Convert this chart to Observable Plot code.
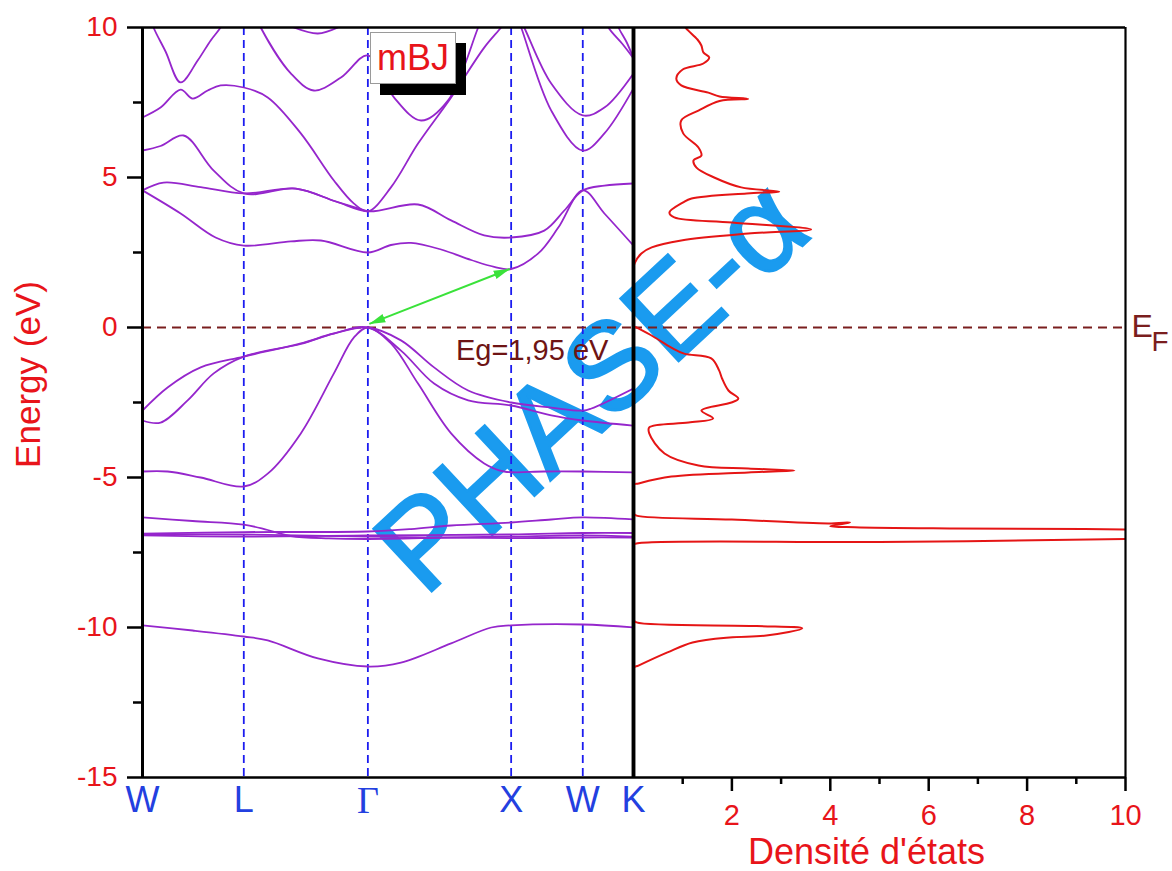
<!DOCTYPE html>
<html><head><meta charset="utf-8">
<script src="https://cdn.jsdelivr.net/npm/d3@7"></script>
<script src="https://cdn.jsdelivr.net/npm/@observablehq/plot@0.6"></script>
<style>
body{margin:0;background:#fff;}
#wrap{position:relative;width:1172px;height:871px;overflow:hidden;font-family:"Liberation Sans",Arial,sans-serif;}
#wrap svg{position:absolute;top:0;z-index:1;}
#wm{position:absolute;left:590px;top:385px;transform:translate(-50%,-50%) rotate(-43deg);font-size:124px;line-height:1;color:#1a9bef;-webkit-text-stroke:2.5px #1a9bef;white-space:nowrap;z-index:0;font-family:"Liberation Sans",Arial,sans-serif;}
#mbj{position:absolute;left:370px;top:32px;width:84px;height:50px;background:#fff;border:1px solid #9a9a9a;box-shadow:10px 11px 0 #000;color:#e8141a;font-size:36px;line-height:50px;text-align:center;z-index:3;}
</style></head>
<body><div id="wrap"><div id="wm">PHASE-α</div><div id="mbj">mBJ</div></div>
<script>
// k-path (high symmetry points), units of 2π/a
const kLabels = ["W","L","Γ","X","W","K"];
const kPositions = [0, 0.707, 1.573, 2.573, 3.073, 3.427];
const bandGap = [1.95];

// Band energies [k, E(eV)]
const bandLow = [[0,-9.93],[0.35,-10.1],[0.707,-10.3],[0.874,-10.43],[1.224,-11.03],[1.573,-11.3],[1.804,-11.17],[2.154,-10.53],[2.434,-10.0],[2.573,-9.93],[3.073,-9.9],[3.427,-10.0]];
const bandD1 = [[0,-6.33],[0.35,-6.45],[0.707,-6.57],[0.874,-6.75],[1.035,-6.95],[1.3,-7.03],[1.573,-7.05],[2.154,-7.0],[2.573,-6.97],[3.073,-6.93],[3.427,-6.97]];
const bandD2 = [[0,-6.87],[0.707,-6.82],[1.573,-6.8],[1.874,-6.72],[2.154,-6.6],[2.573,-6.5],[2.853,-6.4],[3.073,-6.33],[3.427,-6.4]];
const bandD3 = [[0,-6.93],[0.707,-6.97],[1.573,-6.93],[2.573,-6.9],[3.073,-6.85],[3.427,-6.85]];
const bandD4 = [[0,-6.9],[0.707,-6.9],[1.573,-6.97],[2.573,-7.02],[3.073,-7.0],[3.427,-7.0]];
const bandVB3 = [[0,-4.8],[0.175,-4.8],[0.406,-5.0],[0.707,-5.3],[0.874,-4.87],[1.105,-3.53],[1.336,-1.53],[1.476,-0.33],[1.573,0],[1.734,-0.53],[1.923,-1.87],[2.154,-3.53],[2.385,-4.53],[2.525,-4.8],[2.8,-4.8],[3.073,-4.8],[3.427,-4.83]];
const bandVB2 = [[0,-3.1],[0.126,-3.17],[0.315,-2.43],[0.497,-1.53],[0.707,-0.97],[1.105,-0.55],[1.336,-0.2],[1.573,0],[1.804,-0.77],[2.035,-1.87],[2.273,-2.43],[2.573,-2.6],[2.853,-2.93],[3.073,-3.1],[3.427,-3.27]];
const bandVB1 = [[0,-2.77],[0.175,-2.0],[0.406,-1.33],[0.707,-0.97],[1.105,-0.53],[1.336,-0.2],[1.573,0],[1.804,-0.43],[2.035,-1.33],[2.273,-2.1],[2.573,-2.5],[2.853,-2.67],[3.073,-2.77],[3.133,-2.7],[3.427,-2.03]];
const bandCB1 = [[0,4.57],[0.266,3.8],[0.51,3.0],[0.707,2.73],[1.035,2.87],[1.245,2.9],[1.573,2.5],[1.734,2.75],[1.874,2.82],[2.084,2.6],[2.294,2.25],[2.455,2.02],[2.573,1.95],[2.762,2.47],[2.902,3.33],[3.073,4.57],[3.224,3.8],[3.427,2.73]];
const bandCB2 = [[0,4.57],[0.147,4.83],[0.406,4.68],[0.707,4.47],[1.07,4.63],[1.35,4.2],[1.573,3.87],[1.923,4.1],[2.154,3.57],[2.385,3.07],[2.573,3.0],[2.804,3.23],[2.944,3.9],[3.073,4.57],[3.224,4.73],[3.427,4.8]];
const bandCB3 = [[0,5.9],[0.126,6.05],[0.287,6.4],[0.497,5.23],[0.707,4.47],[1.07,4.63],[1.35,4.2],[1.573,3.87]];
const bandC4 = [[0,7.0],[0.126,7.33],[0.266,7.93],[0.35,7.63],[0.455,7.9],[0.545,8.07],[0.707,8.0],[0.874,7.67],[1.105,6.47],[1.336,4.9],[1.476,4.13],[1.573,3.87],[1.734,4.67],[1.923,6.13],[2.154,7.67],[2.385,9.33],[2.503,10.0],[2.55,10.3]];
const bandC5 = [[0.05,10.4],[0.077,10.0],[0.161,9.2],[0.266,8.17],[0.385,8.9],[0.476,9.57],[0.545,10.0],[0.58,10.3]];
const bandC6 = [[0.79,10.4],[0.825,10.0],[1.035,8.47],[1.196,7.9],[1.385,8.33],[1.573,9.07],[1.755,7.67],[1.944,6.9],[2.133,7.57],[2.343,10.0],[2.38,10.4]];
const bandC7 = [[1.056,10.0],[1.224,9.8],[1.364,10.0]];
const bandC8 = [[2.62,10.4],[2.664,10.0],[2.853,8.13],[3.073,7.07],[3.224,7.33],[3.427,8.47]];
const bandC9 = [[2.61,10.4],[2.643,10.0],[2.853,7.23],[3.073,5.9],[3.224,6.47],[3.427,7.97]];
const bandC10 = [[3.23,10.3],[3.252,10.0],[3.35,9.45],[3.427,8.97]];
const bandC11 = [[3.3,10.3],[3.322,10.0],[3.38,9.5],[3.427,8.97]];

// Density of states [E(eV), DOS]
const dosCurve = [[10.1,1.02],[9.97,1.07],[9.6,1.3],[9.4,1.38],[9.17,1.42],[9.0,1.54],[8.8,1.42],[8.6,1.0],[8.3,0.87],[8.07,0.97],[7.83,1.52],[7.7,1.75],[7.62,2.33],[7.55,1.75],[7.23,1.32],[6.9,0.97],[6.47,1.01],[6.0,1.32],[5.73,1.38],[5.57,1.22],[5.33,1.28],[5.0,1.64],[4.67,2.19],[4.53,2.96],[4.47,2.3],[4.3,1.18],[4.17,1.01],[3.83,0.73],[3.67,0.83],[3.5,2.0],[3.27,3.61],[3.13,2.33],[2.9,0.97],[2.67,0.37],[2.47,0.16],[2.13,0.02],[1.95,0],[0.05,0],[0.0,0.06],[-0.3,0.4],[-0.67,0.77],[-0.87,1.03],[-1.03,1.58],[-1.43,1.74],[-1.7,1.8],[-2.1,1.93],[-2.37,2.13],[-2.5,1.99],[-2.77,1.38],[-3.03,1.62],[-3.17,1.12],[-3.33,0.32],[-3.53,0.32],[-4.2,0.63],[-4.6,1.32],[-4.7,2.33],[-4.77,3.27],[-4.83,2.33],[-4.97,0.77],[-5.2,0.1],[-5.25,0],[-6.2,0],[-6.27,0.06],[-6.4,2.0],[-6.53,3.96],[-6.5,4.4],[-6.62,4.0],[-6.66,4.5],[-6.7,6.5],[-6.73,10],[-6.85,14],[-7.05,10],[-7.15,5],[-7.2,0.06],[-7.25,0],[-9.75,0],[-9.83,0.06],[-9.95,2.5],[-10.03,3.43],[-10.27,2.7],[-10.33,1.95],[-10.5,1.2],[-10.83,0.69],[-11.27,0.1],[-11.35,0],[-15,0]];

const energyTicks = [-15,-10,-5,0,5,10];
const energyMinorTicks = [-12.5,-7.5,-2.5,2.5,7.5];
const dosTicks = [2,4,6,8,10];
const dosMinorTicks = [1,3,5,7,9];

const allBands = [bandLow,bandD1,bandD2,bandD3,bandD4,bandVB3,bandVB2,bandVB1,bandCB1,bandCB2,bandCB3,bandC4,bandC5,bandC6,bandC7,bandC8,bandC9,bandC10,bandC11];
const bandRows = allBands.flatMap((pts, i) => pts.map(([k, E]) => ({band: i, k, E})));
const kTable = kLabels.map((label, i) => ({label, k: kPositions[i]}));

const RED = "#e8141a", BLUE = "#2340e0", PURPLE = "#9526cc", BROWN = "#7a1e1e";
const FONT = "Liberation Sans, Arial, sans-serif";

const solidArrow = (color) => {
  const m = d3.create("svg:marker")
    .attr("viewBox", "-16 -6 16 12")
    .attr("markerWidth", 16).attr("markerHeight", 12)
    .attr("markerUnits", "userSpaceOnUse")
    .attr("orient", "auto-start-reverse")
    .attr("refX", 0).attr("refY", 0);
  m.append("path").attr("d", "M-16,-4.5L0,0L-16,4.5Z").attr("fill", color).attr("stroke", "none");
  return m.node();
};

const kG = kPositions[2], kX = kPositions[3];

const left = Plot.plot({
  width: 636, height: 871,
  marginLeft: 142, marginRight: 3, marginTop: 27, marginBottom: 94,
  x: {domain: [0, kPositions[5]], axis: null},
  y: {domain: [-15, 10]},
  style: {background: "transparent", overflow: "visible", fontFamily: FONT},
  marks: [
    Plot.ruleX(kPositions.slice(1, 5), {stroke: "#1c1cf0", strokeWidth: 1.8, strokeDasharray: "8,5"}),
    Plot.ruleY([0], {stroke: BROWN, strokeWidth: 1.8, strokeDasharray: "9,6"}),
    Plot.line(bandRows, {x: "k", y: "E", z: "band", curve: "catmull-rom", stroke: PURPLE, strokeWidth: 1.8, clip: true}),
    Plot.link(bandGap, {x1: kG + 0.01, y1: 0.12, x2: kX - 0.01, y2: d => d, stroke: "#3ae23a", strokeWidth: 2, markerStart: solidArrow, markerEnd: solidArrow}),
    Plot.text(bandGap, {x: 2.72, y: -0.77, text: d => `Eg=${String(d).replace(".", ",")} eV`, fontSize: 29, fill: "#6e1414"}),
    Plot.ruleX([0], {stroke: "black", strokeWidth: 3}),
    Plot.ruleX([kPositions[5]], {stroke: "black", strokeWidth: 3.5}),
    Plot.ruleY([10], {stroke: "black", strokeWidth: 2.5}),
    Plot.ruleY([-15], {stroke: "black", strokeWidth: 2.5}),
    Plot.axisY({ticks: energyTicks, tickSize: 15, tickPadding: 10, tickFormat: d => String(d), fontSize: 28, fill: RED, stroke: "black", strokeWidth: 2.5, label: null}),
    Plot.axisY({ticks: energyMinorTicks, tickSize: 9, tickFormat: () => "", stroke: "black", strokeWidth: 2.5, label: null}),
    Plot.text(kTable.filter(d => d.label !== "Γ"), {x: "k", text: "label", frameAnchor: "bottom", lineAnchor: "middle", dy: 23, fontSize: 36, fill: BLUE}),
    Plot.text(kTable.filter(d => d.label === "Γ"), {x: "k", text: "label", frameAnchor: "bottom", lineAnchor: "middle", dy: 23, fontSize: 38, fill: BLUE, fontFamily: "Liberation Serif, serif"}),
    Plot.text(["Energy (eV)"], {text: d => d, frameAnchor: "left", textAnchor: "middle", lineAnchor: "middle", dx: -114, dy: -28, rotate: -90, fontSize: 35, fill: RED})
  ]
});

const right = Plot.plot({
  width: 539, height: 871,
  marginLeft: 0, marginRight: 47, marginTop: 27, marginBottom: 94,
  x: {domain: [0, 10]},
  y: {domain: [-15, 10], axis: null},
  style: {background: "transparent", overflow: "visible", fontFamily: FONT},
  marks: [
    Plot.ruleY([0], {stroke: BROWN, strokeWidth: 1.8, strokeDasharray: "9,6"}),
    Plot.line(dosCurve, {x: d => d[1], y: d => d[0], curve: "catmull-rom", stroke: "#e51515", strokeWidth: 2, clip: true}),
    Plot.ruleX([0], {stroke: "black", strokeWidth: 3.5}),
    Plot.ruleX([10], {stroke: "black", strokeWidth: 2.2}),
    Plot.ruleY([10], {stroke: "black", strokeWidth: 2.5}),
    Plot.ruleY([-15], {stroke: "black", strokeWidth: 2.5}),
    Plot.axisX({ticks: dosTicks, tickSize: 14, tickPadding: 13, tickFormat: d => String(d), fontSize: 29, fill: RED, stroke: "black", strokeWidth: 2.5, label: null}),
    Plot.axisX({ticks: dosMinorTicks, tickSize: 7, tickFormat: () => "", stroke: "black", strokeWidth: 2.5, label: null}),
    Plot.text(["Densité d'états"], {text: d => d, frameAnchor: "bottom", lineAnchor: "middle", dx: -13, dy: 75, fontSize: 36, fill: RED}),
    Plot.text(["E"], {text: d => d, x: 10, y: 0, dx: 6, dy: -1, textAnchor: "start", fontSize: 32, fill: BROWN}),
    Plot.text(["F"], {text: d => d, x: 10, y: 0, dx: 26, dy: 15, textAnchor: "start", fontSize: 28, fill: BROWN})
  ]
});

const wrap = document.getElementById("wrap");
left.style.left = "0px";
right.style.left = "633px";
wrap.appendChild(left);
wrap.appendChild(right);
</script>
</body></html>
